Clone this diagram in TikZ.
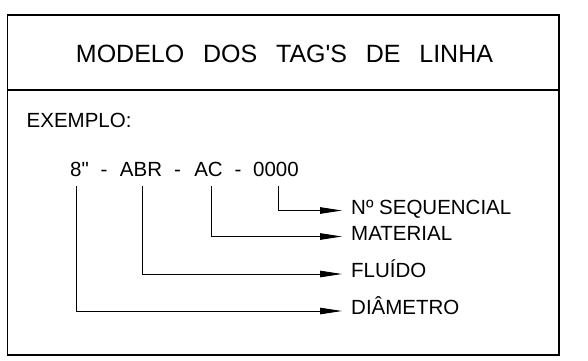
\documentclass[tikz,border=0pt]{standalone}
\usepackage{fontspec}
\setmainfont{Liberation Sans}
\usetikzlibrary{arrows.meta}
\begin{document}
\begin{tikzpicture}[x=1pt,y=-1pt,
  frame/.style={draw=black,line width=1.2pt},
  conn/.style={draw=black,line width=0.9pt},
  arr/.style={conn,-{Triangle[length=22pt,width=6.5pt]}},
  title/.style={font=\fontsize{25}{25}\selectfont,inner sep=0pt,text height=0.72em,text depth=0pt},
  txt/.style={font=\fontsize{20.5}{21}\selectfont,inner sep=0pt},
  lab/.style={txt,anchor=west,inner xsep=9pt,text height=0.72em,text depth=0pt}]
\useasboundingbox (0,0) rectangle (588,360);
\fill[white] (0,0) rectangle (588,360);
\draw[frame] (7.5,15) rectangle (559,355);
\draw[frame] (7.5,90) -- (559,90);
\node[title] (ttl) at (284.5,59) {MODELO\hspace{18.8pt}DOS\hspace{18.8pt}TAG\textquotesingle S\hspace{18.8pt}DE\hspace{18.8pt}LINHA};
\node[txt,anchor=base west] (ex) at (26.5,127) {EXEMPLO:};
% tag pieces
\node[txt,anchor=base] (t8) at (79.5,176) {8\textquotedbl};
\node[txt,anchor=base] (d1) at (104,176) {-};
\node[txt,anchor=base] (tabr) at (141,176) {ABR};
\node[txt,anchor=base] (d2) at (177.5,176) {-};
\node[txt,anchor=base] (tac) at (208.5,176) {AC};
\node[txt,anchor=base] (d3) at (238,176) {-};
\node[txt,anchor=base] (t0) at (276,176) {0000};
% labels
\node[lab] (lseq) at (342,210.5) {Nº SEQUENCIAL};
\node[lab] (lmat) at (342,236.5) {MATERIAL};
\node[lab] (lflu) at (342,274) {FLUÍDO};
\node[lab] (ldia) at (342,311) {DIÂMETRO};
% connectors
\draw[arr] ([xshift=2pt,yshift=-10pt]t0.base) |- (lseq.west);
\draw[arr] ([xshift=2.5pt,yshift=-10pt]tac.base) |- (lmat.west);
\draw[arr] ([xshift=1pt,yshift=-10pt]tabr.base) |- (lflu.west);
\draw[arr] ([xshift=-3.5pt,yshift=-10pt]t8.base) |- (ldia.west);
\end{tikzpicture}
\end{document}
